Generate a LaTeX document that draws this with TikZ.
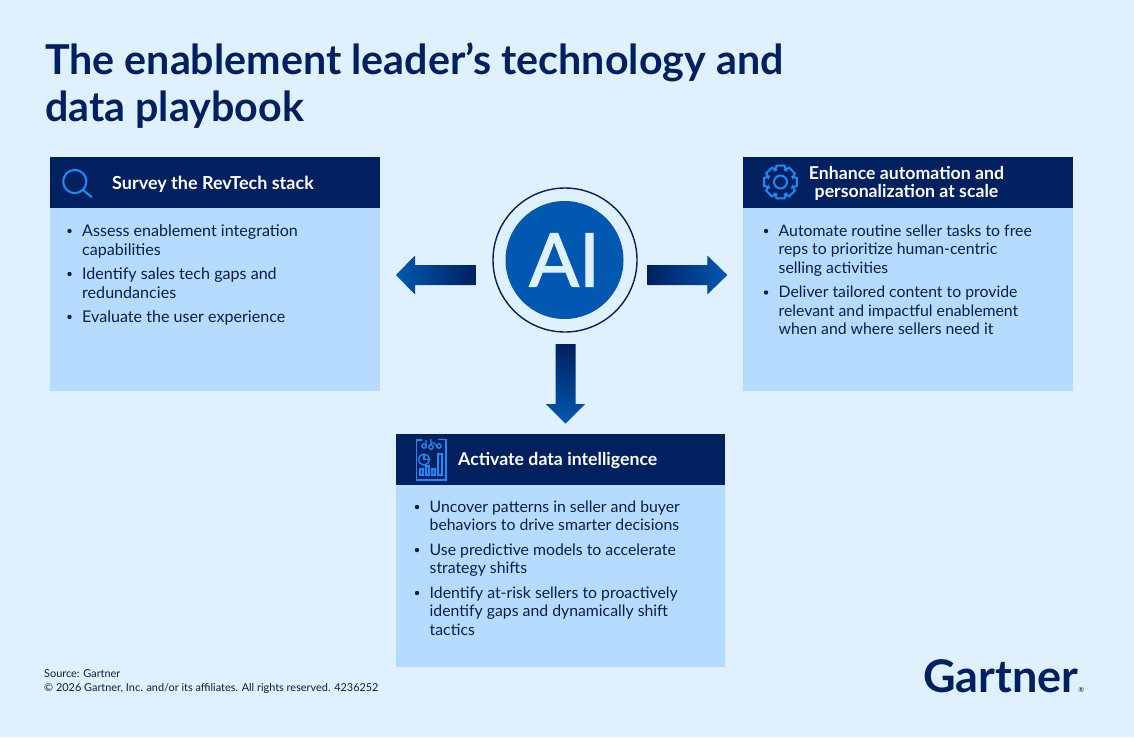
\documentclass[tikz,border=0pt]{standalone}
\usepackage{fontspec}
\setmainfont{Lato}
\newfontfamily\aifont{Lato}[FakeBold=1.6]
\usetikzlibrary{calc}
\definecolor{bgc}{HTML}{DFF1FF}
\definecolor{navy}{HTML}{002060}
\definecolor{bodyc}{HTML}{B5DCFF}
\definecolor{midblue}{HTML}{0058B0}
\definecolor{iconc}{HTML}{1A8CFF}
\definecolor{textc}{HTML}{0A1E46}
\newcommand\fsz[2]{\fontsize{#1}{#2}\selectfont}
\tikzset{
  x=1pt,y=-1pt,
  headbox/.style={fill=navy,draw=none},
  bodybox/.style={fill=bodyc,draw=none},
  headtext/.style={text=white,font=\fsz{17.7}{18.5}\bfseries,align=center,inner sep=0pt},
  item/.style={anchor=base west,text=textc,font=\fsz{16.1}{18.7},align=left,inner sep=0pt},
  itemtight/.style={item,font=\fsz{15.8}{18.7}},
  bull/.style={circle,fill=textc,draw=none,inner sep=0pt,minimum size=4.4pt},
  iconline/.style={draw=iconc,line width=2pt,fill=none},
  iconthin/.style={draw=iconc,line width=1.3pt,fill=none},
}
% style, name, x, baseline of first line, baseline of last line, text
\newcommand\bitem[6]{%
  \node[bull] (#2b) at (#3-12.5,#4-5) {};
  \node[#1] (#2) at (#3,#5) {#6};
}
\begin{document}
\begin{tikzpicture}
\useasboundingbox (0,0) rectangle (1134,737);
\fill[bgc] (0,0) rectangle (1134,737);
% title
\node[anchor=base west,inner sep=0pt,text=navy,font=\fsz{41.2}{47}\bfseries,align=left] (title) at (45,121.5)
  {The enablement leader’s technology and\\data playbook};
% boxes
\fill[bodybox] (50,208) rectangle (380,391);
\fill[headbox] (50,157) rectangle (380,208);
\fill[bodybox] (743,208) rectangle (1073,391);
\fill[headbox] (743,157) rectangle (1073,208);
\fill[bodybox] (396,485) rectangle (725,667);
\fill[headbox] (396,434) rectangle (725,485);
% header text
\node[headtext,anchor=west,font=\fsz{18}{18.5}\bfseries] (h1) at (112,184) {Survey the RevTech stack};
\node[headtext] (h2) at (906.5,183.5) {Enhance automation and\\personalization at scale};
\node[headtext,anchor=west] (h3) at (458,460.5) {Activate data intelligence};
% left items
\bitem{item}{a1}{82}{236}{255}{Assess enablement integration\\capabilities}
\bitem{item}{a2}{82}{279}{298}{Identify sales tech gaps and\\redundancies}
\bitem{item}{a3}{82}{322}{322}{Evaluate the user experience}
% right items
\bitem{itemtight}{c1}{778.5}{236}{273.4}{Automate routine seller tasks to free\\reps to prioritize human-centric\\selling activities}
\bitem{itemtight}{c2}{778.5}{297.5}{334.9}{Deliver tailored content to provide\\relevant and impactful enablement\\when and where sellers need it}
% bottom items
\bitem{itemtight}{b1}{429.5}{512}{530.7}{Uncover patterns in seller and buyer\\behaviors to drive smarter decisions}
\bitem{itemtight}{b2}{429.5}{555}{573.7}{Use predictive models to accelerate\\strategy shifts}
\bitem{itemtight}{b3}{429.5}{598}{635.4}{Identify at-risk sellers to proactively\\identify gaps and dynamically shift\\tactics}
% AI circle
\node[circle,draw=navy,line width=1.4pt,fill=bgc,minimum size=144pt,inner sep=0pt] (ring) at (565,260) {};
\node[circle,fill=midblue,minimum size=118pt,inner sep=0pt,text=bgc,font=\aifont\fsz{74}{78}] (ai) at (564.5,260) {AI};
% arrows
\coordinate (ltail) at (475.7,275);
\coordinate (ltip) at (396,275);
\coordinate (rtail) at (647.7,275);
\coordinate (rtip) at (727.3,275);
\coordinate (dtail) at (565.5,344);
\coordinate (dtip) at (565.5,423.5);
\shade[left color=midblue,middle color=navy,right color=navy]
  (ltip) -- ($(ltip)+(19,-19.5)$) -- ($(ltip)+(19,-10)$) -- ($(ltail)+(0,-10)$) -- ($(ltail)+(0,10)$) -- ($(ltip)+(19,10)$) -- ($(ltip)+(19,19.5)$) -- cycle;
\shade[left color=navy,middle color=navy,right color=midblue]
  (rtip) -- ($(rtip)+(-20,-19.5)$) -- ($(rtip)+(-20,-10)$) -- ($(rtail)+(0,-10)$) -- ($(rtail)+(0,10)$) -- ($(rtip)+(-20,10)$) -- ($(rtip)+(-20,19.5)$) -- cycle;
\shade[top color=navy,middle color=navy,bottom color=midblue]
  (dtip) -- ($(dtip)+(-19.5,-19.5)$) -- ($(dtip)+(-10,-19.5)$) -- ($(dtail)+(-10,0)$) -- ($(dtail)+(10,0)$) -- ($(dtip)+(10,-19.5)$) -- ($(dtip)+(19.5,-19.5)$) -- cycle;
% search icon
\draw[iconline] (74.8,181.5) circle (11.6);
\draw[iconline,line cap=round] (83,190) -- (91.5,197);
% gear icon
\begin{scope}[shift={(780.5,182)}]
  \draw[iconline,line join=miter]
  (-27:13) \foreach \a in {0,45,...,315} {
    -- ({\a-24}:13) -- ({\a-14}:16.8) -- ({\a+14}:16.8) -- ({\a+24}:13)
  } -- cycle;
  \draw[iconline] (0,0) circle (6.5);
\end{scope}
% data icon
\begin{scope}[shift={(416,439)}]
  \draw[iconthin] (6,1) -- (0.5,1) -- (0.5,41) -- (30,41) -- (30,0.5) -- (22,0.5);
  \draw[iconthin] (10,8) -- (10,1) (15,6) -- (15,0) (22,8) -- (18,4) -- (15,4);
  \draw[iconthin] (8,7) circle (2.2) (15,8) circle (2.2) (23,7) circle (2.2);
  \draw[iconthin] (8,20.5) circle (5.5);
  \draw[iconthin] (8,16) -- (8,20.5) -- (12.5,20.5);
  \draw[iconthin] (4,36) rectangle (7,30) (10,36) rectangle (13,27) (16,36) rectangle (19,30) (22,36) rectangle (26,15);
\end{scope}
% footer
\node[anchor=base west,inner sep=0pt,text=textc,font=\fsz{10.9}{14},align=left] (src) at (44,691.5)
  {Source: Gartner\\© 2026 Gartner, Inc. and/or its affiliates. All rights reserved. 4236252};
% logo
\node[anchor=base west,inner sep=0pt,text=navy,font=\fsz{45}{50}\bfseries] (logo) at (923,692) {Gartner{\fsz{7}{8}\mdseries ®}};
\end{tikzpicture}
\end{document}
